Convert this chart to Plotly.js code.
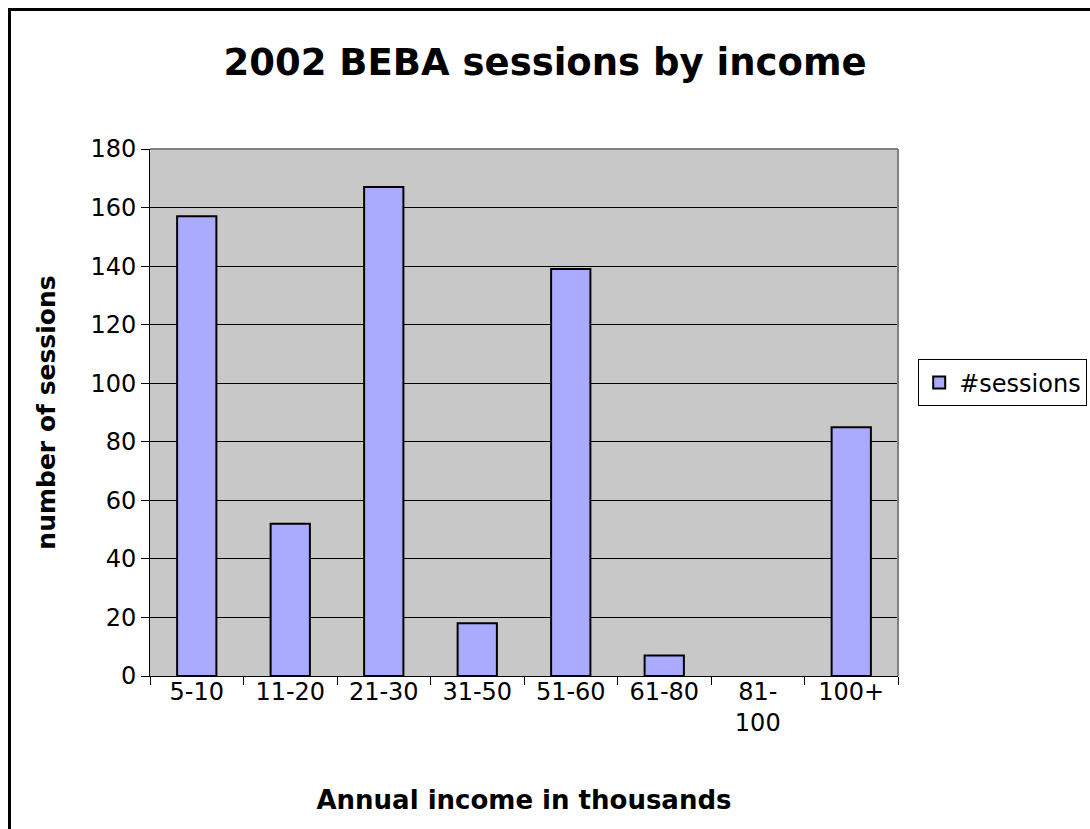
<!DOCTYPE html>
<html>
<head>
<meta charset="utf-8">
<script src="https://cdn.plot.ly/plotly-3.0.1.min.js"></script>
<style>
html,body{margin:0;padding:0;background:#fff;overflow:hidden;}
#frame{position:absolute;left:8px;top:8px;width:1200px;height:1000px;border:3px solid #000;box-sizing:border-box;pointer-events:none;z-index:5;}
#chart{position:absolute;left:0;top:0;width:1090px;height:829px;}
</style>
</head>
<body>
<div id="chart"></div>
<div id="frame"></div>
<script>
const categories = ["5-10","11-20","21-30","31-50","51-60","61-80","81-<br>100","100+"];
const sessions = [157, 52, 167, 18, 139, 7, 0, 85];
const seriesName = "#sessions";
const yTicks = [0,20,40,60,80,100,120,140,160,180];

const font = "Verdana, 'DejaVu Sans', sans-serif";

Plotly.newPlot("chart", [{
  type: "bar",
  x: categories,
  y: sessions,
  name: seriesName,
  marker: {color: "#aaaaff", line: {color: "#000", width: sessions.map(v => v === 0 ? 0 : 2)}},
  showlegend: true
}], {
  width: 1090, height: 829,
  margin: {l: 150, r: 192, t: 149, b: 153, autoexpand: false},
  paper_bgcolor: "rgba(0,0,0,0)",
  plot_bgcolor: "#c8c8c8",
  bargap: 0.58,
  font: {family: font, color: "#000", size: 24},
  title: {text: "<b>2002 BEBA sessions by income</b>", font: {size: 37, family: font}, x: 0.5, xref: "container", y: 0.925, yanchor: "middle"},
  xaxis: {
    type: "category",
    tickson: "boundaries",
    ticks: "outside", ticklen: 8, tickcolor: "#000", tickwidth: 1,
    ticklabelstandoff: -6,
    showline: true, linecolor: "#000", linewidth: 1,
    showgrid: false,
    tickfont: {size: 24},
    title: {text: "<b>Annual income in thousands</b>", font: {size: 26}, standoff: 54}
  },
  yaxis: {
    range: [0, 180],
    tickvals: yTicks,
    ticks: "outside", ticklen: 8, tickcolor: "#000",
    showline: true, linecolor: "#000", linewidth: 1,
    showgrid: true, gridcolor: "#000", gridwidth: 1,
    zeroline: false,
    tickfont: {size: 24},
    title: {text: "<b>number of sessions</b>", font: {size: 25}, standoff: 27}
  },
  shapes: [
    {type: "line", xref: "paper", yref: "paper", x0: 0, x1: 1, y0: 1, y1: 1, line: {color: "#808080", width: 2}},
    {type: "line", xref: "paper", yref: "paper", x0: 1, x1: 1, y0: 0, y1: 1, line: {color: "#808080", width: 2}}
  ],
  legend: {
    x: 1.027, xanchor: "left", y: 0.556, yanchor: "middle",
    bordercolor: "#000", borderwidth: 1, bgcolor: "#fff",
    font: {size: 24}, itemwidth: 30, tracegroupgap: 0
  }
}, {displayModeBar: false, staticPlot: true});
</script>
</body>
</html>
